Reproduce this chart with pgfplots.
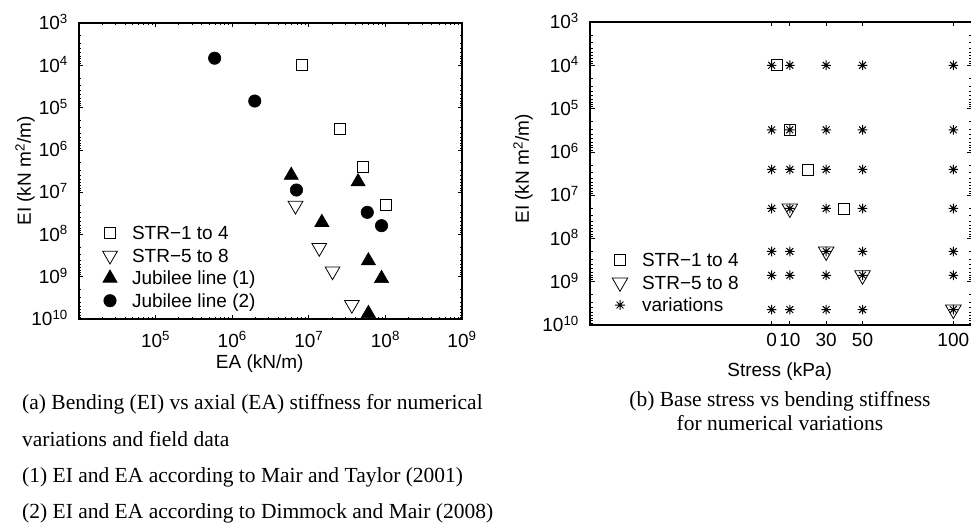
\documentclass[border=0pt]{standalone}
\usepackage{fontspec}
\setmainfont{Liberation Sans}
\newfontfamily\capfont{Liberation Serif}
\usepackage{pgfplots}
\pgfplotsset{compat=1.18}

% eight-armed asterisk
\pgfdeclareplotmark{star8}{%
  \pgfpathmoveto{\pgfqpoint{-\pgfplotmarksize}{0pt}}%
  \pgfpathlineto{\pgfqpoint{\pgfplotmarksize}{0pt}}%
  \pgfpathmoveto{\pgfqpoint{0pt}{-\pgfplotmarksize}}%
  \pgfpathlineto{\pgfqpoint{0pt}{\pgfplotmarksize}}%
  \pgfpathmoveto{\pgfqpoint{-.7071\pgfplotmarksize}{-.7071\pgfplotmarksize}}%
  \pgfpathlineto{\pgfqpoint{.7071\pgfplotmarksize}{.7071\pgfplotmarksize}}%
  \pgfpathmoveto{\pgfqpoint{-.7071\pgfplotmarksize}{.7071\pgfplotmarksize}}%
  \pgfpathlineto{\pgfqpoint{.7071\pgfplotmarksize}{-.7071\pgfplotmarksize}}%
  \pgfusepathqstroke}

\newcommand\lab{\fontsize{19}{22}\selectfont}
\newcommand\captext{\capfont\fontsize{21.5}{24}\selectfont}

\begin{document}
\begin{tikzpicture}
\useasboundingbox (0pt,0pt) rectangle (971pt,528pt);

% (a) bending vs axial stiffness
\begin{axis}[
  scale only axis,
  at={(79pt,209pt)}, anchor=south west,
  width=383pt, height=296pt,
  tick align=inside,
  axis line style={line width=1.2pt},
  major tick style={black, line width=0.7pt},
  minor tick style={black, line width=0.7pt},
  major tick length=4.5pt,
  minor tick length=2.5pt,
  tick label style={font=\lab, inner sep=0pt},
  label style={font=\lab, inner sep=0pt},
  xmode=log, xmin=1e4, xmax=1e9,
  ymode=log, y dir=reverse, ymin=1e3, ymax=1e10,
  xtick={1e4,1e5,1e6,1e7,1e8,1e9},
  xticklabels={,10\textsuperscript{5},10\textsuperscript{6},10\textsuperscript{7},
    10\textsuperscript{8},10\textsuperscript{9}},
  xticklabel style={anchor=base, yshift=-28pt},
  ytick={1e3,1e4,1e5,1e6,1e7,1e8,1e9,1e10},
  yticklabels={10\textsuperscript{3},10\textsuperscript{4},10\textsuperscript{5},
    10\textsuperscript{6},10\textsuperscript{7},10\textsuperscript{8},
    10\textsuperscript{9},10\textsuperscript{10}},
  yticklabel style={anchor=base east, xshift=-11pt, yshift=-6.8pt},
  xlabel={EA (kN/m)},
  xlabel style={at={(axis description cs:0.472,0)}, anchor=base, yshift=-49pt},
  ylabel={EI (kN m\textsuperscript{2}/m)},
  ylabel style={at={(axis description cs:-0.141,0.5)}, anchor=center},
  legend cell align=left,
  legend image code/.code={\path (0pt,-9pt) rectangle (20pt,9pt);
    \draw[#1] plot coordinates {(10pt,0pt)};},
  legend style={draw=none, fill=none, font=\lab, inner sep=0pt, outer sep=0pt,
    row sep=4.6pt, column sep=12pt,
    nodes={inner sep=0pt, text height=13.6pt, text depth=0pt},
    at={(axis description cs:0,0)}, anchor=south west,
    xshift=21pt, yshift=9.3pt},
]
\addplot[draw=none, mark=square, mark size=5.5pt,
  mark options={draw=black, line width=0.9pt, fill=none}]
  coordinates {(8.2e6,1e4) (2.56e7,3.15e5) (5.15e7,2.5e6) (1.03e8,2e7)};
\addlegendentry{STR−1 to 4}
\addplot[draw=none, mark=triangle, mark size=8.5pt,
  mark options={draw=black, rotate=180, line width=0.8pt, fill=none}]
  coordinates {(6.7e6,2.08e7) (1.37e7,2.07e8) (2.04e7,7.4e8) (3.65e7,4.6e9)};
\addlegendentry{STR−5 to 8}
\addplot[draw=none, mark=triangle*, mark size=8.2pt,
  mark options={draw=black, line width=0.6pt, fill=black}]
  coordinates {(5.9e6,4e6) (4.4e7,5.7e6) (1.48e7,5.2e7) (6e7,4.2e8)
               (8.9e7,1.1e9) (6e7,7.4e9)};
\addlegendentry{Jubilee line (1)}
\addplot[draw=none, mark=*, mark size=6.2pt,
  mark options={draw=black, line width=0.6pt, fill=black}]
  coordinates {(5.9e5,6.8e3) (1.97e6,7e4) (6.9e6,8.9e6) (5.8e7,3e7) (8.9e7,6.2e7)};
\addlegendentry{Jubilee line (2)}
\end{axis}

% (b) base stress vs bending stiffness
\begin{axis}[
  scale only axis,
  at={(590pt,203pt)}, anchor=south west,
  width=381.5pt, height=303pt,
  tick align=inside,
  axis line style={line width=1.2pt},
  major tick style={black, line width=0.7pt},
  minor tick style={black, line width=0.7pt},
  major tick length=4.5pt,
  minor tick length=2.5pt,
  tick label style={font=\lab, inner sep=0pt},
  label style={font=\lab, inner sep=0pt},
  xmin=-100, xmax=110,
  ymode=log, y dir=reverse, ymin=1e3, ymax=1e10,
  xtick={0,10,30,50,100},
  xticklabels={0,10,30,50,100},
  xticklabel style={anchor=base, yshift=-21.7pt},
  ytick={1e3,1e4,1e5,1e6,1e7,1e8,1e9,1e10},
  yticklabels={10\textsuperscript{3},10\textsuperscript{4},10\textsuperscript{5},
    10\textsuperscript{6},10\textsuperscript{7},10\textsuperscript{8},
    10\textsuperscript{9},10\textsuperscript{10}},
  yticklabel style={anchor=base east, xshift=-11pt, yshift=-6.8pt},
  xlabel={Stress (kPa)},
  xlabel style={at={(axis description cs:0.497,0)}, anchor=base, yshift=-51.7pt},
  ylabel={EI (kN m\textsuperscript{2}/m)},
  ylabel style={at={(axis description cs:-0.1756,0.515)}, anchor=center},
  legend cell align=left,
  legend image code/.code={\path (0pt,-9pt) rectangle (20pt,9pt);
    \draw[#1] plot coordinates {(10pt,0pt)};},
  legend style={draw=none, fill=none, font=\lab, inner sep=0pt, outer sep=0pt,
    row sep=4.6pt, column sep=12pt,
    nodes={inner sep=0pt, text height=13.6pt, text depth=0pt},
    at={(axis description cs:0,0)}, anchor=south west,
    xshift=20pt, yshift=11pt},
]
\addplot[draw=none, mark=square, mark size=5.5pt,
  mark options={draw=black, line width=0.9pt, fill=none}]
  coordinates {(3,1e4) (10,3.1e5) (20,2.55e6) (40,2.03e7)};
\addlegendentry{STR−1 to 4}
\addplot[draw=none, mark=triangle, mark size=9pt,
  mark options={draw=black, rotate=180, line width=0.8pt, fill=none}]
  coordinates {(10,2.03e7) (30,2e8) (50,7.1e8) (100,4.4e9)};
\addlegendentry{STR−5 to 8}
\addplot[draw=none, mark=star8, mark size=4.8pt,
  mark options={draw=black, line width=1pt}]
  coordinates {
    (0,1e4) (10,1e4) (30,1e4) (50,1e4) (100,1e4)
    (0,3.1e5) (10,3.1e5) (30,3.1e5) (50,3.1e5) (100,3.1e5)
    (0,2.55e6) (10,2.55e6) (30,2.55e6) (50,2.55e6) (100,2.55e6)
    (0,2.03e7) (10,2.03e7) (30,2.03e7) (50,2.03e7) (100,2.03e7)
    (0,2e8) (10,2e8) (30,2e8) (50,2e8) (100,2e8)
    (0,7.1e8) (10,7.1e8) (30,7.1e8) (50,7.1e8) (100,7.1e8)
    (0,4.4e9) (10,4.4e9) (30,4.4e9) (50,4.4e9) (100,4.4e9)};
\addlegendentry{variations}
\end{axis}

% captions
\node[anchor=base west, inner sep=0pt, font=\captext] at (22pt,119pt)
  {(a) Bending (EI) vs axial (EA) stiffness for numerical};
\node[anchor=base west, inner sep=0pt, font=\captext] at (22pt,82pt)
  {variations and field data};
\node[anchor=base west, inner sep=0pt, font=\captext] at (22pt,46pt)
  {(1) EI and EA according to Mair and Taylor (2001)};
\node[anchor=base west, inner sep=0pt, font=\captext] at (22pt,10pt)
  {(2) EI and EA according to Dimmock and Mair (2008)};
\node[anchor=base, inner sep=0pt, font=\captext] at (780pt,121.3pt)
  {(b) Base stress vs bending stiffness};
\node[anchor=base, inner sep=0pt, font=\captext] at (780pt,98pt)
  {for numerical variations};
\end{tikzpicture}
\end{document}
